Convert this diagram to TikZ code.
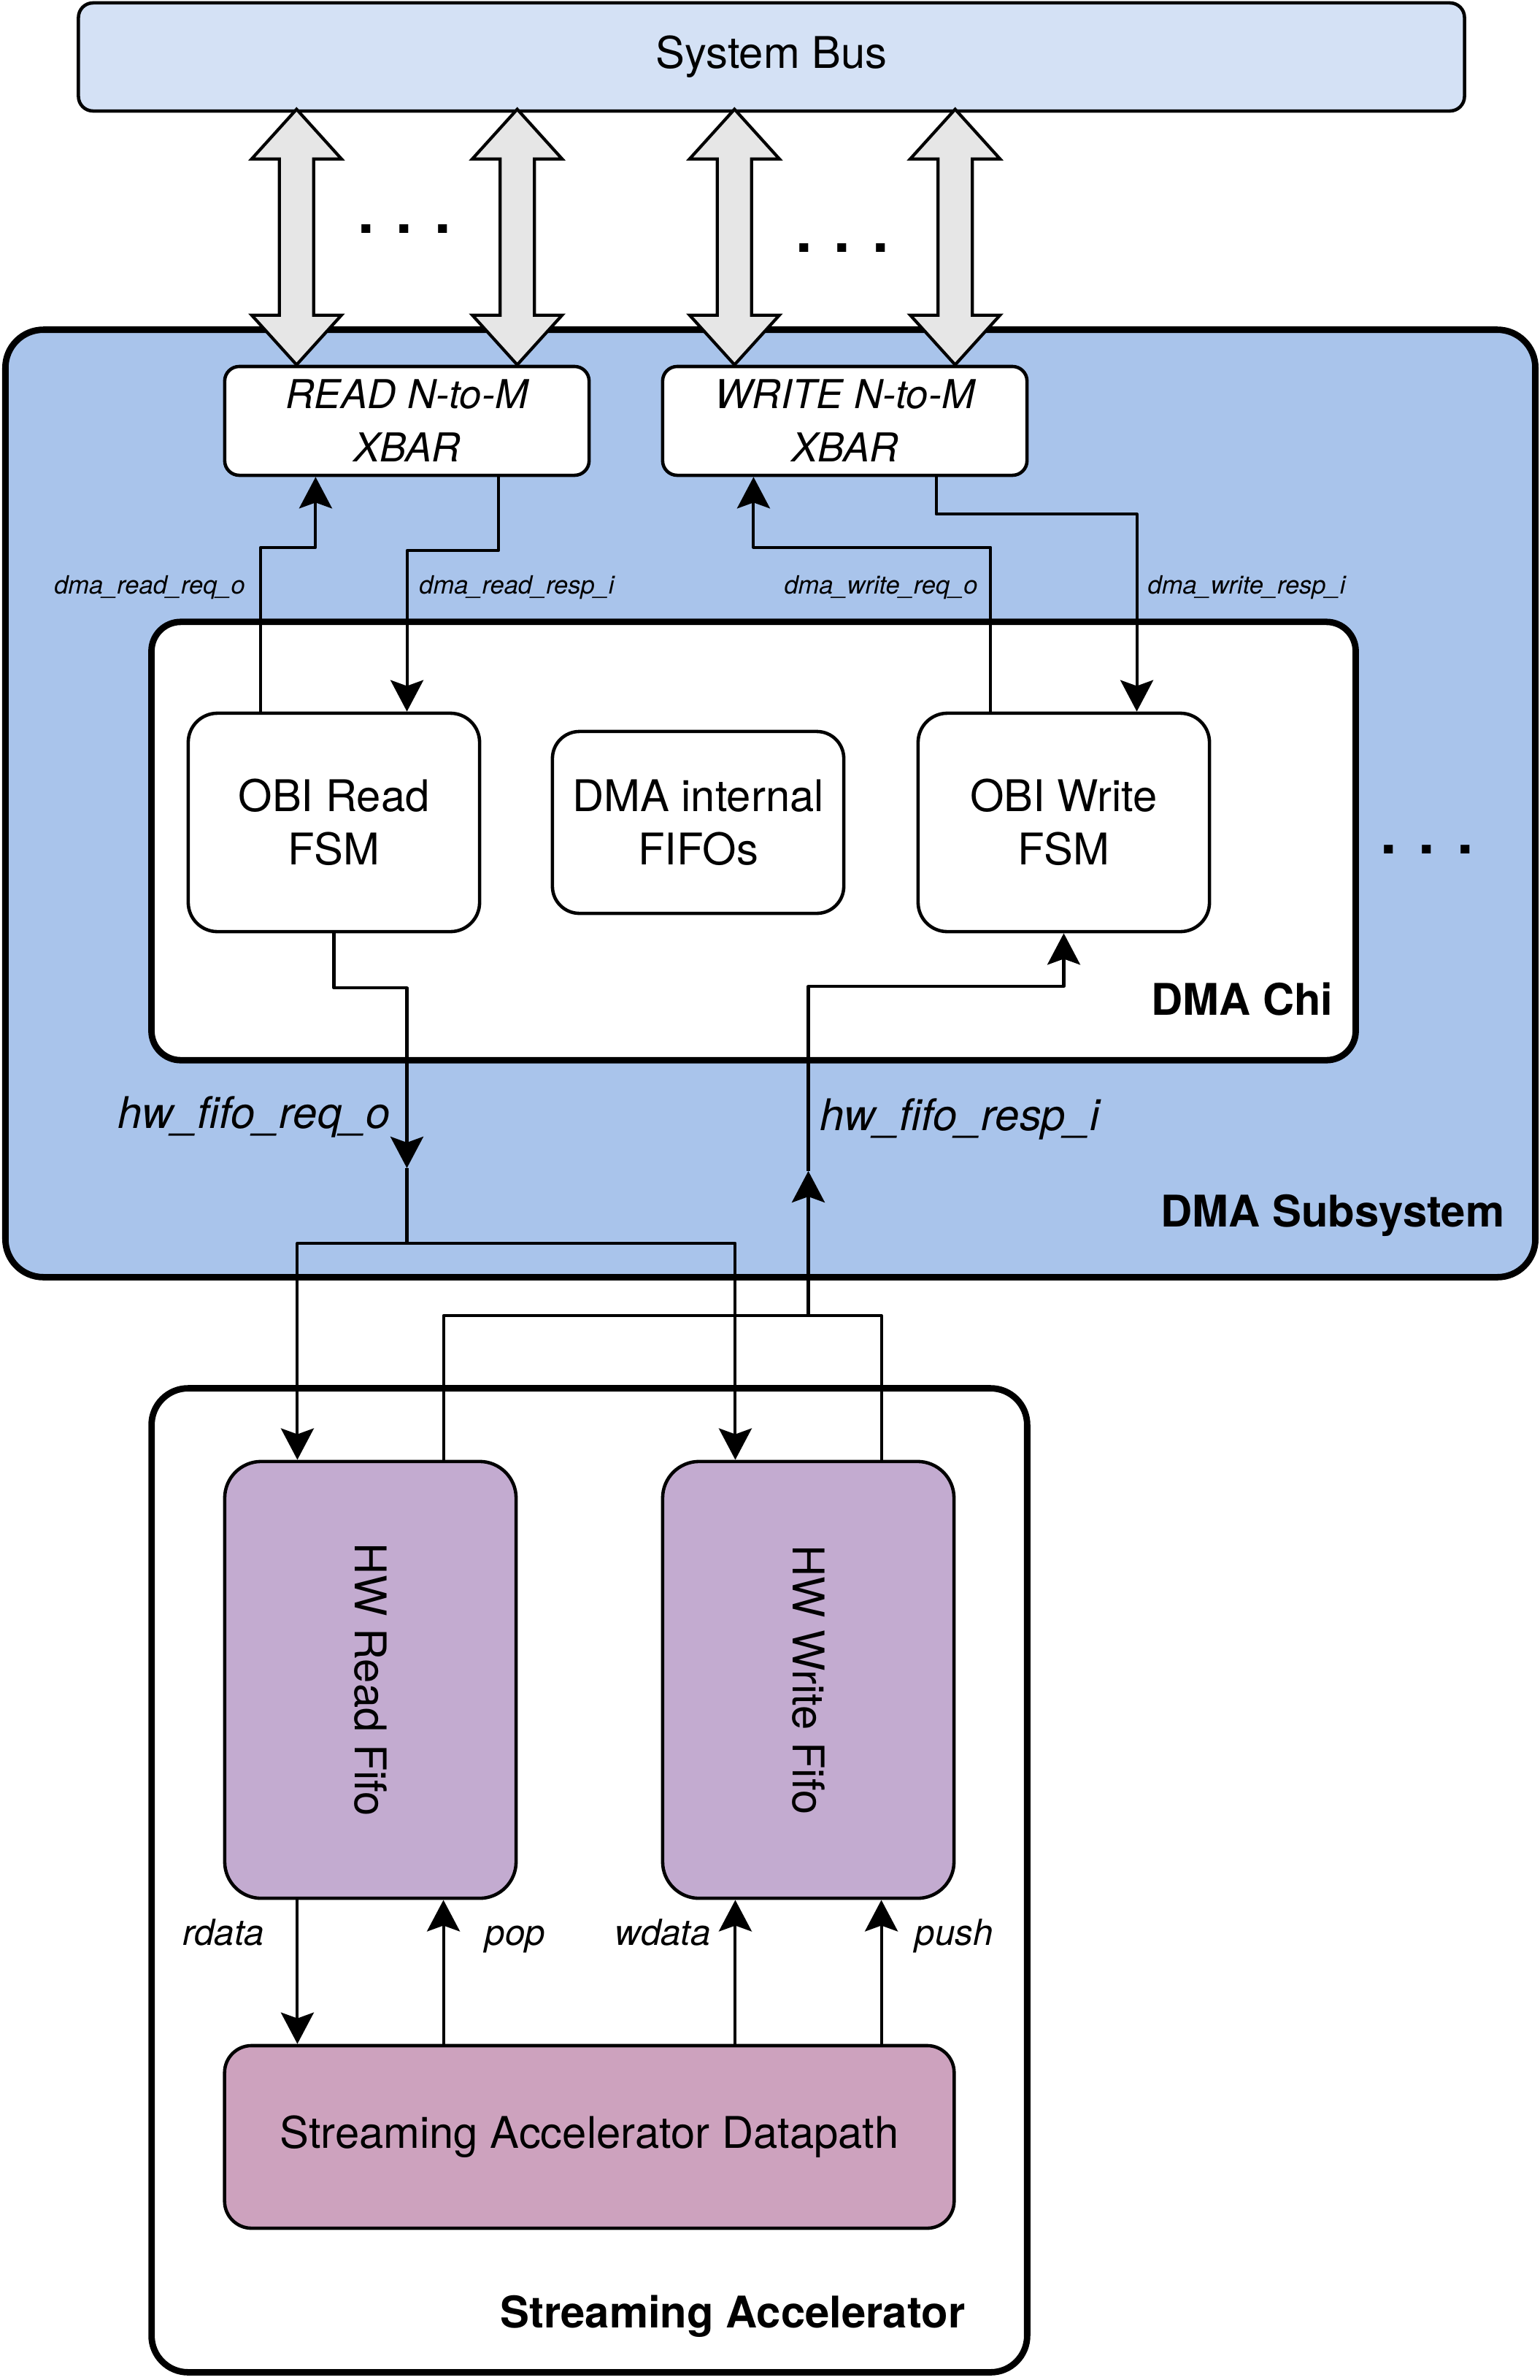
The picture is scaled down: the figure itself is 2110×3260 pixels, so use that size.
\documentclass[tikz,border=0pt]{standalone}
\usepackage{fontspec}
\setsansfont{TeX Gyre Heros}
\usepackage{tikz}
\usetikzlibrary{arrows.meta,calc,positioning}
\definecolor{dmaBus}{HTML}{D4E1F5}
\definecolor{dmaSub}{HTML}{A9C4EB}
\definecolor{dmaFifo}{HTML}{C3ABD0}
\definecolor{dmaPath}{HTML}{CDA2BE}
\definecolor{dmaLink}{HTML}{E6E6E6}
\tikzset{
  dma diagram/.style={x=0.01cm, y=-0.01cm,
    font=\sffamily\fontsize{17}{20.7}\selectfont, line join=round},
  dma box/.style={draw, fill=white, line width=1.3pt,
    rounded corners=0.4cm, align=center, inner sep=0pt},
  dma xbar/.style={dma box, rounded corners=0.2cm,
    minimum width=4.99cm, minimum height=1.49cm,
    font=\sffamily\itshape\fontsize{15.5}{20.7}\selectfont},
  dma fsm/.style={dma box, minimum width=3.99cm, minimum height=2.99cm},
  dma fifo/.style={dma box, fill=dmaFifo, rounded corners=0.5cm,
    minimum width=3.99cm, minimum height=5.98cm},
  dma frame/.style={draw, line width=2.5pt, inner sep=0pt},
  dma sig/.style={-{Stealth[length=0.43cm, width=0.45cm, inset=0.08cm]},
    line width=1.15pt},
  dma wire/.style={line width=1.15pt},
  dma link/.style={draw, fill=dmaLink, line width=1.2pt, line join=miter},
  dma title/.style={font=\sffamily\bfseries\fontsize{17}{20.7}\selectfont,
    inner sep=0pt},
  dma port/.style={font=\sffamily\itshape\fontsize{9.8}{12}\selectfont},
  dma signal/.style={font=\sffamily\itshape\fontsize{17}{20.7}\selectfont},
  dma edge/.style={font=\sffamily\itshape\fontsize{14}{17}\selectfont},
  dma dots/.style={font=\sffamily\bfseries\fontsize{23}{28}\selectfont}
}
% wide double arrow from an XBAR up to the bus
\newcommand{\buslink}[1]{%
  \draw[dma link] (#1) -- ++(61.5,-68) -- ++(-38,0) -- ++(0,-214)
    -- ++(38,0) -- ++(-61.5,-68) -- ++(-61.5,68) -- ++(38,0)
    -- ++(0,214) -- ++(-38,0) -- cycle;}

\begin{document}
\begin{tikzpicture}[dma diagram]
\useasboundingbox (0,0) rectangle (2110,3260);

% containers
\node[dma frame, fill=dmaSub, rounded corners=0.52cm,
  minimum width=20.95cm, minimum height=12.97cm] (subsys) at (1055.5,1100.5) {};
\node[dma frame, fill=white, rounded corners=0.4cm,
  minimum width=16.49cm, minimum height=6cm] (chi) at (1032.5,1152) {};
\node[dma frame, fill=white, rounded corners=0.5cm,
  minimum width=11.99cm, minimum height=13.47cm] (acc) at (807.5,2575.5) {};

\node[dma title, anchor=base east] (chititle) at (1827,1390) {DMA Chi};
\node[dma title, anchor=base east] (subtitle) at (2062,1680) {DMA Subsystem};
\node[dma title, anchor=base east] (acctitle) at (1323,3188) {Streaming Accelerator};

% blocks
\node[dma box, fill=dmaBus, rounded corners=0.2cm,
  minimum width=18.98cm, minimum height=1.48cm] (bus) at (1057,78) {System Bus};
\node[dma xbar] (rxbar) at (557.5,576.5) {READ N-to-M\\XBAR};
\node[dma xbar] (wxbar) at (1157.5,576.5) {WRITE N-to-M\\XBAR};
\node[dma fsm] (obir) at (457.5,1126.5) {OBI Read\\FSM};
\node[dma fsm, minimum height=2.49cm, rounded corners=0.37cm] (fifos)
  at (956.5,1126.5) {DMA internal\\FIFOs};
\node[dma fsm] (obiw) at (1457.5,1126.5) {OBI Write\\FSM};
\node[dma fifo] (rfifo) at (507.5,2301) {};
\node[dma fifo] (wfifo) at (1107.5,2301) {};
\node[rotate=-90] (rfifotext) at (rfifo.center) {HW Read Fifo};
\node[rotate=-90] (wfifotext) at (wfifo.center) {HW Write Fifo};
\node[dma box, fill=dmaPath, rounded corners=0.37cm,
  minimum width=9.99cm, minimum height=2.5cm] (dpath) at (807.5,2927)
  {Streaming Accelerator Datapath};

% bus links
\foreach \xb in {rxbar,wxbar}
  \foreach \f in {0.2,0.8}
    {\buslink{$(\xb.north west)!\f!(\xb.north east)$}}
\node[dma dots, anchor=base] (rdots) at (554,319) {. . .};
\node[dma dots, anchor=base] (wdots) at (1154,345) {. . .};
\node[dma dots, anchor=base] (chdots) at (1955,1169) {. . .};

% OBI side
\draw[dma sig] ([xshift=-1cm]obir.north) -- ++(0,-225) -| ([xshift=-1.25cm]rxbar.south);
\draw[dma sig] ([xshift=1.25cm]rxbar.south) -- ++(0,101) -| ([xshift=1cm]obir.north);
\draw[dma sig] ([xshift=-1cm]obiw.north) -- ++(0,-225) -| ([xshift=-1.25cm]wxbar.south);
\draw[dma sig] ([xshift=1.25cm]wxbar.south) -- ++(0,51) -| ([xshift=1cm]obiw.north);
\node[dma port, anchor=base] (lblrreq) at (205,813) {dma\_read\_req\_o};
\node[dma port, anchor=base] (lblrresp) at (708,813) {dma\_read\_resp\_i};
\node[dma port, anchor=base] (lblwreq) at (1207,813) {dma\_write\_req\_o};
\node[dma port, anchor=base] (lblwresp) at (1708,813) {dma\_write\_resp\_i};

% hw fifo side
\coordinate (reqmid) at (557.5,1600);
\coordinate (reqsplit) at (557.5,1703);
\draw[dma sig] (obir.south) -- ++(0,75) -| (reqmid);
\draw[dma sig] (reqmid) -- (reqsplit) -| ([xshift=-1cm]rfifo.north);
\draw[dma sig] (reqsplit) -| ([xshift=-1cm]wfifo.north);
\coordinate (respjoin) at (1107.5,1802);
\coordinate (respmid) at (1107.5,1604);
\draw[dma wire] ([xshift=1cm]rfifo.north) |- (respjoin) -| ([xshift=1cm]wfifo.north);
\draw[dma sig] (respjoin) -- (respmid);
\draw[dma sig] (respmid) -- ++(0,-253) -| (obiw.south);
\node[dma signal, anchor=base] (lblhwreq) at (348,1545) {hw\_fifo\_req\_o};
\node[dma signal, anchor=base] (lblhwresp) at (1315,1548) {hw\_fifo\_resp\_i};

% datapath
\draw[dma sig] ([xshift=-1cm]rfifo.south) -- ([xshift=-1cm]rfifo.south |- dpath.north);
\draw[dma sig] ([xshift=1cm]rfifo.south |- dpath.north) -- ([xshift=1cm]rfifo.south);
\draw[dma sig] ([xshift=-1cm]wfifo.south |- dpath.north) -- ([xshift=-1cm]wfifo.south);
\draw[dma sig] ([xshift=1cm]wfifo.south |- dpath.north) -- ([xshift=1cm]wfifo.south);
\node[dma edge, anchor=base] (lblrdata) at (306,2664) {rdata};
\node[dma edge, anchor=base] (lblpop) at (706,2664) {pop};
\node[dma edge, anchor=base] (lblwdata) at (908,2664) {wdata};
\node[dma edge, anchor=base] (lblpush) at (1307,2664) {push};
\end{tikzpicture}
\end{document}
